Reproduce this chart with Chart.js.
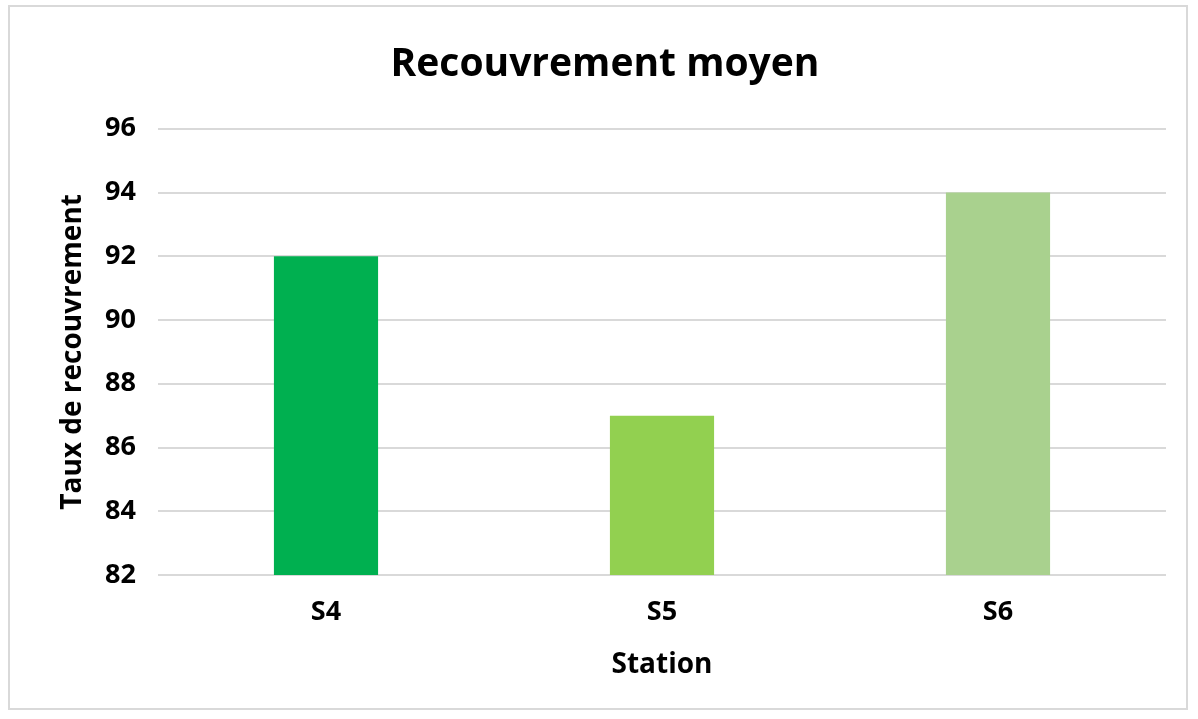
<!DOCTYPE html>
<html>
<head>
<meta charset="utf-8">
<script src="https://cdn.jsdelivr.net/npm/chart.js@4.4.1/dist/chart.umd.min.js"></script>
<style>
  html, body { margin: 0; padding: 0; background: #fff; }
  #frame { position: absolute; left: 8px; top: 5px; width: 1180px; height: 705px; border: 2px solid #d9d9d9; box-sizing: border-box; }
  #wrap { position: absolute; left: 0; top: 0; width: 1198px; height: 719px; }
</style>
</head>
<body>
<div id="frame"></div>
<div id="wrap"><canvas id="c" width="1198" height="719"></canvas></div>
<script>
const categories = ["S4", "S5", "S6"];
const values = [92, 87, 94];
const barColors = ["#00B050", "#92D050", "#A9D18E"];
const chartTitle = "Recouvrement moyen";
const yTitle = "Taux de recouvrement";
const xTitle = "Station";
const yMin = 82, yMax = 96, yStep = 2;

const FONT = "'Open Sans', Lato, sans-serif";

new Chart(document.getElementById("c"), {
  type: "bar",
  data: {
    labels: categories,
    datasets: [{
      data: values,
      backgroundColor: barColors,
      borderWidth: 0,
      categoryPercentage: 1,
      barPercentage: 0.31
    }]
  },
  options: {
    responsive: false,
    animation: false,
    layout: { padding: { left: 44, right: 32, top: 0, bottom: 0 } },
    plugins: {
      legend: { display: false },
      tooltip: { enabled: false },
      title: {
        display: true,
        text: chartTitle,
        color: "#000",
        font: { family: FONT, size: 39, weight: "bold", lineHeight: 1.2 },
        padding: { top: 41, bottom: 41 }
      }
    },
    scales: {
      x: {
        grid: { display: false, drawTicks: false },
        border: { display: false },
        ticks: { color: "#000", font: { family: FONT, size: 27, weight: "bold" }, padding: 21 },
        title: {
          display: true, text: xTitle, color: "#000",
          font: { family: FONT, size: 28, weight: "bold", lineHeight: 1.2 },
          padding: { top: 0, bottom: 37 }
        },
        afterFit: (s) => { s.height = 144; }
      },
      y: {
        min: yMin, max: yMax,
        ticks: { stepSize: yStep, color: "#000", font: { family: FONT, size: 27, weight: "bold" }, padding: 22 },
        grid: { color: "#d9d9d9", lineWidth: 2, drawTicks: false },
        border: { display: false },
        title: {
          display: true, text: yTitle, color: "#000",
          font: { family: FONT, size: 28, weight: "bold", lineHeight: 1.2 },
          padding: { top: 12, bottom: 0 }
        },
        afterFit: (s) => { s.width = 114; }
      }
    }
  }
});
</script>
</body>
</html>
